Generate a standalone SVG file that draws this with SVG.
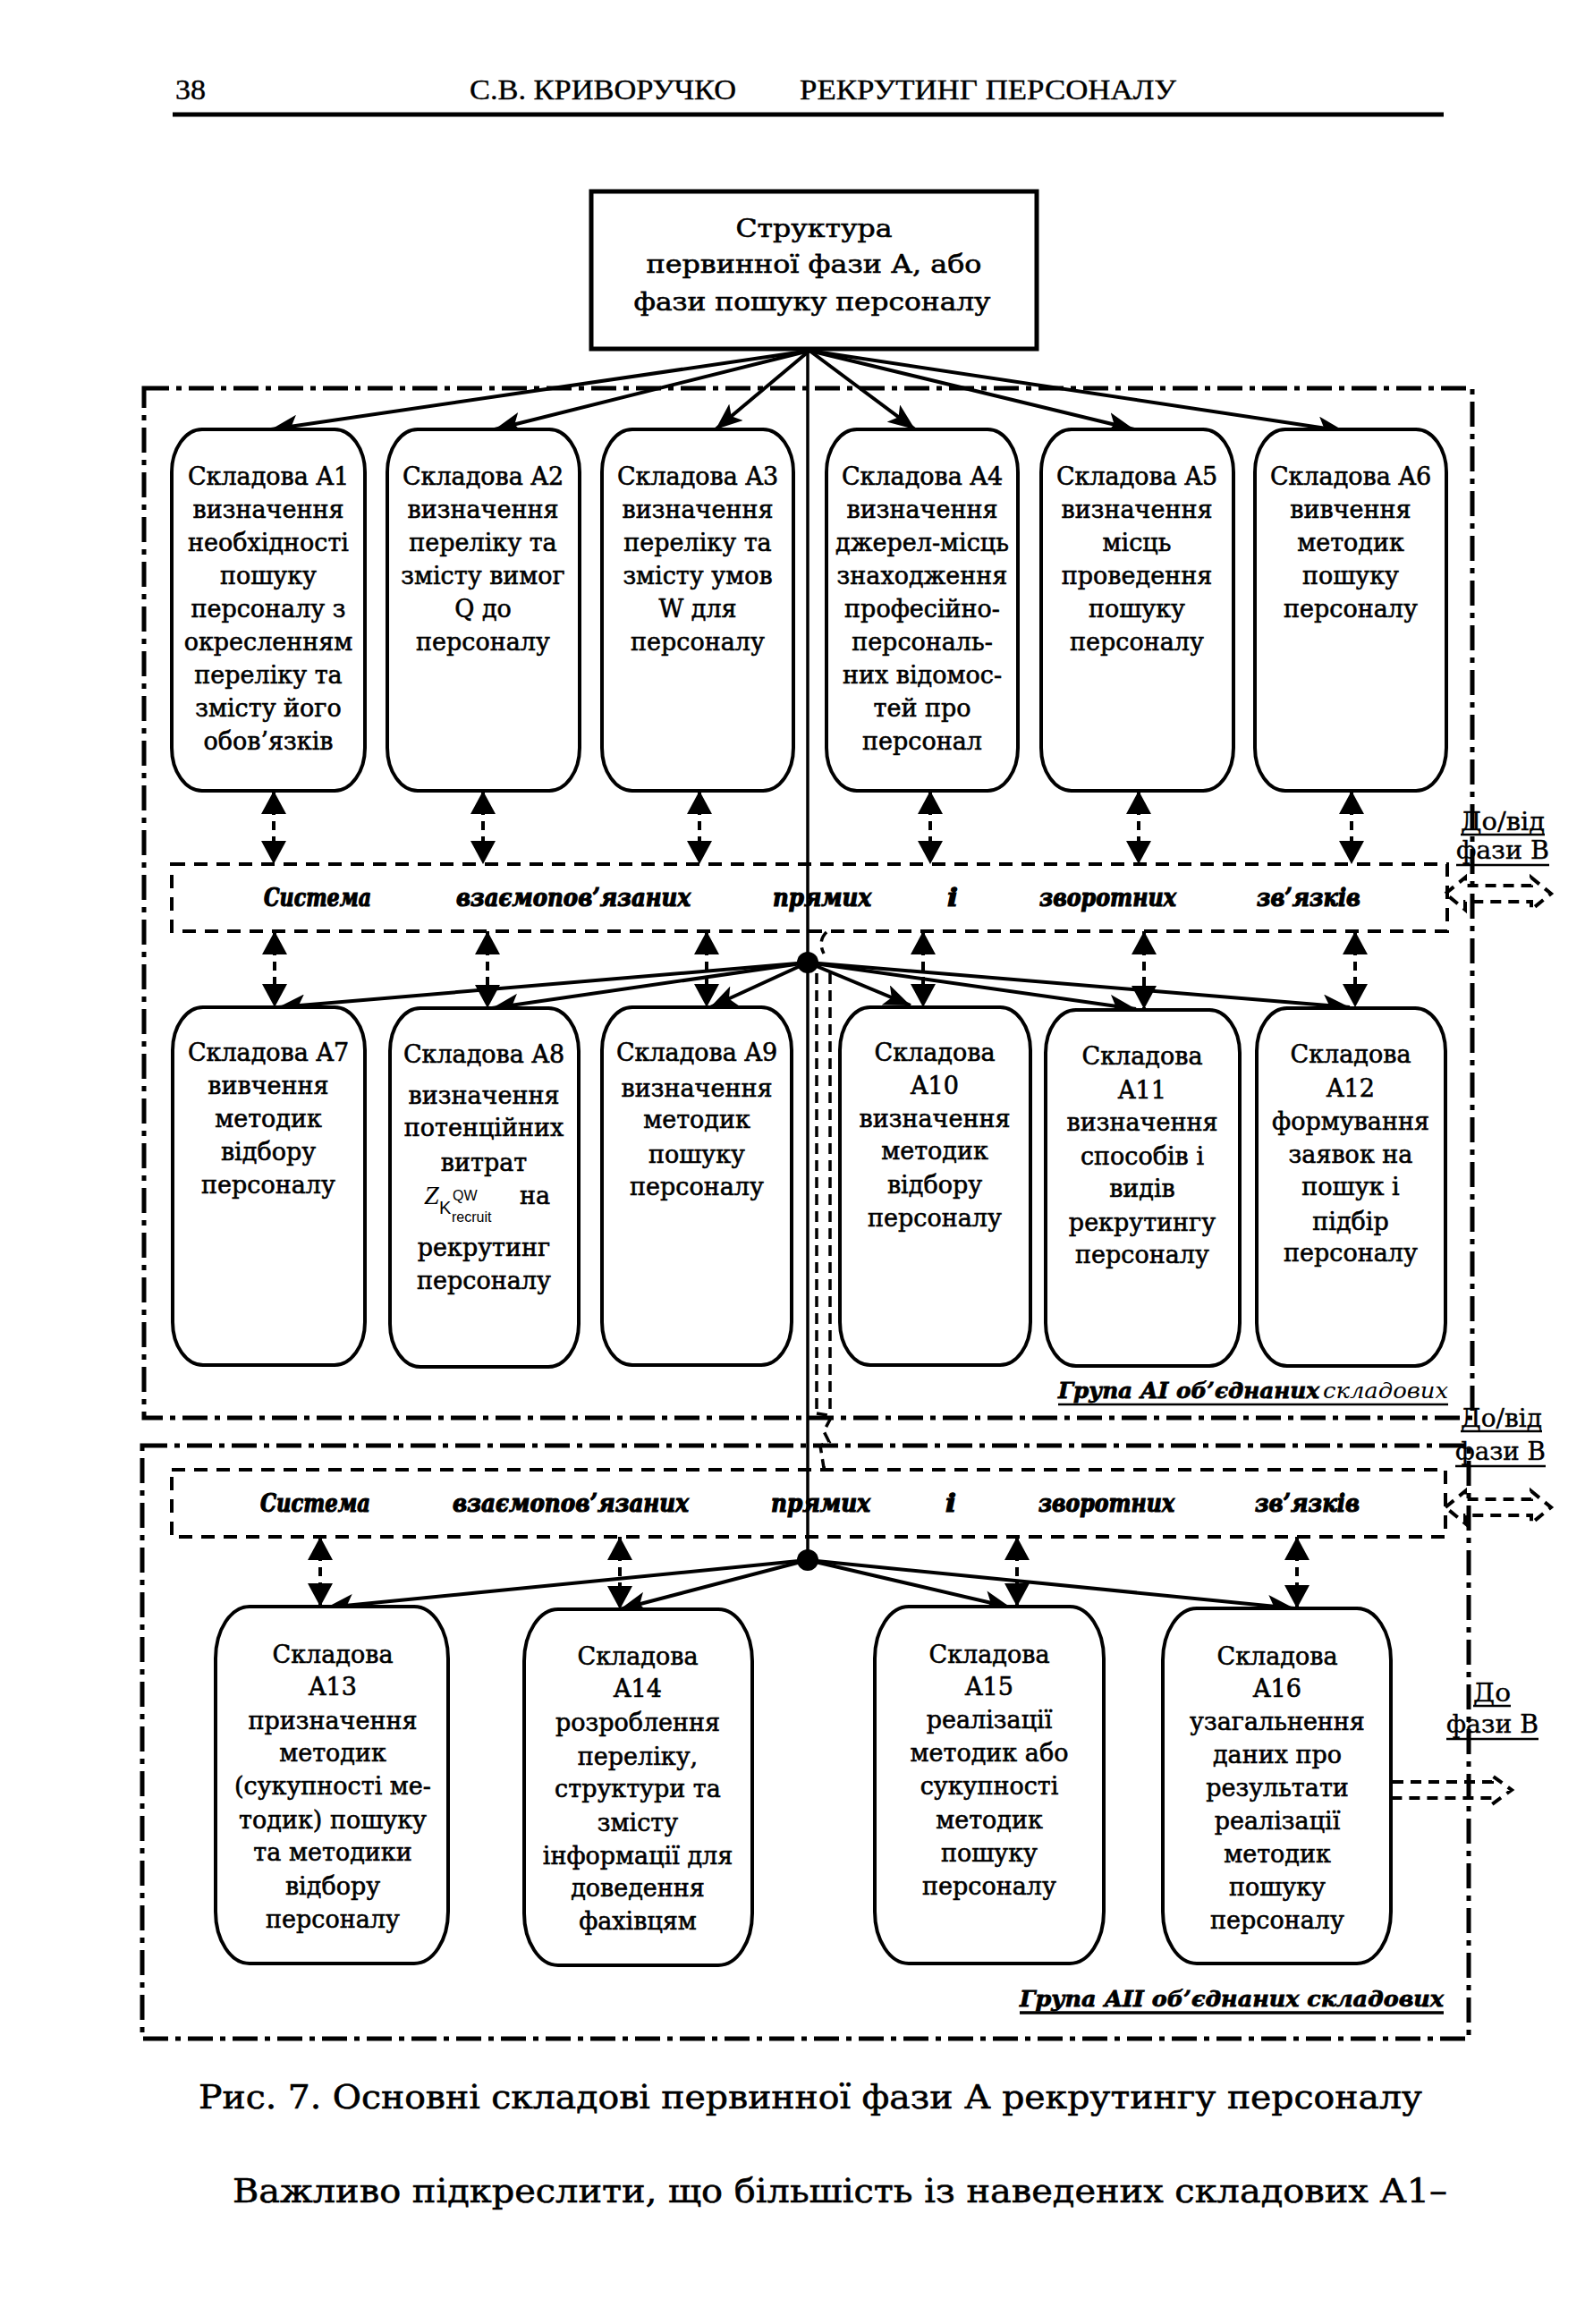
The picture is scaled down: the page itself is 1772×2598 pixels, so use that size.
<svg xmlns="http://www.w3.org/2000/svg" width="1772" height="2598" viewBox="0 0 1772 2598">
<style>
.bg{fill:#fff}
.box{fill:#fff;stroke:#000;stroke-width:4}
.top{fill:#fff;stroke:#000;stroke-width:5}
.t{font-family:"DejaVu Serif","Liberation Serif",serif;font-size:27px;text-anchor:middle;fill:#000;stroke:#000;stroke-width:0.6}
.h{font-family:"Liberation Serif","DejaVu Serif",serif;font-size:32px;fill:#000;stroke:#000;stroke-width:0.4}
.cap{font-family:"DejaVu Serif","Liberation Serif",serif;font-size:38px;fill:#000;stroke:#000;stroke-width:0.6}
.lab{font-family:"DejaVu Serif","Liberation Serif",serif;font-size:28px;fill:#000;stroke:#000;stroke-width:0.4}
.sw{font-family:"DejaVu Serif","Liberation Serif",serif;font-size:27px;font-weight:bold;font-style:italic;fill:#000;stroke:#000;stroke-width:1.2}
.gl{font-family:"DejaVu Serif","Liberation Serif",serif;font-size:25px;font-weight:bold;font-style:italic;fill:#000;stroke:#000;stroke-width:0.8}
.gli{font-family:"DejaVu Serif","Liberation Serif",serif;font-size:25px;font-style:italic;fill:#000}
.sys{fill:none;stroke:#000;stroke-width:4;stroke-dasharray:15 10}
.grp{fill:none;stroke:#000;stroke-width:5;stroke-dasharray:28 8 6 8}
.fan{fill:none;stroke:#000;stroke-width:4;marker-end:url(#fa)}
.dar{fill:none;stroke:#000;stroke-width:4;stroke-dasharray:10 7;marker-start:url(#da);marker-end:url(#da)}
.blk{fill:none;stroke:#000;stroke-width:4;stroke-dasharray:12 8}
.ul{stroke:#000;stroke-width:2.5}
.tube{fill:none;stroke:#000;stroke-width:3.5;stroke-dasharray:12 7}
</style>
<defs>
<marker id="fa" viewBox="0 0 30 24" refX="30" refY="12" markerWidth="30" markerHeight="24" markerUnits="userSpaceOnUse" orient="auto"><path d="M0,0 L30,12 L0,24 L7,12 Z" fill="#000"/></marker>
<marker id="da" viewBox="0 0 26 28" refX="26" refY="14" markerWidth="26" markerHeight="28" markerUnits="userSpaceOnUse" orient="auto-start-reverse"><path d="M0,0 L26,14 L0,28 Z" fill="#000"/></marker>
</defs>
<rect class="bg" x="0" y="0" width="1772" height="2598"/>

<g id="header">
<text class="h" x="196" y="111" textLength="34" lengthAdjust="spacingAndGlyphs">38</text>
<text class="h" x="525" y="111" textLength="298" lengthAdjust="spacingAndGlyphs">С.В. КРИВОРУЧКО</text>
<text class="h" x="894" y="111" textLength="421" lengthAdjust="spacingAndGlyphs">РЕКРУТИНГ ПЕРСОНАЛУ</text>
<line x1="193" y1="128" x2="1614" y2="128" stroke="#000" stroke-width="5"/>
</g>

<g id="groups">
<rect id="groupAI" class="grp" x="161" y="434" width="1485" height="1151"/>
<rect id="groupAII" class="grp" x="159" y="1616" width="1483" height="663"/>
</g>

<g id="connectors">
<line x1="903" y1="390" x2="903" y2="1744" stroke="#000" stroke-width="3.5"/>
<line class="fan" x1="905" y1="392" x2="303" y2="480"/>
<line class="fan" x1="905" y1="392" x2="553" y2="480"/>
<line class="fan" x1="905" y1="392" x2="800" y2="480"/>
<line class="fan" x1="905" y1="392" x2="1023" y2="480"/>
<line class="fan" x1="905" y1="392" x2="1268" y2="480"/>
<line class="fan" x1="905" y1="392" x2="1503" y2="482"/>

<line class="dar" x1="306" y1="884" x2="306" y2="966"/>
<line class="dar" x1="540" y1="884" x2="540" y2="966"/>
<line class="dar" x1="782" y1="884" x2="782" y2="966"/>
<line class="dar" x1="1040" y1="884" x2="1040" y2="966"/>
<line class="dar" x1="1273" y1="884" x2="1273" y2="966"/>
<line class="dar" x1="1511" y1="884" x2="1511" y2="966"/>

<line class="dar" x1="307" y1="1041" x2="307" y2="1126"/>
<line class="dar" x1="545" y1="1041" x2="545" y2="1127"/>
<line class="dar" x1="790" y1="1041" x2="790" y2="1126"/>
<line class="dar" x1="1032" y1="1041" x2="1032" y2="1126"/>
<line class="dar" x1="1279" y1="1041" x2="1279" y2="1128"/>
<line class="dar" x1="1515" y1="1041" x2="1515" y2="1126"/>

<circle cx="903" cy="1076" r="12" fill="#000"/>
<line class="fan" x1="903" y1="1076" x2="311" y2="1126"/>
<line class="fan" x1="903" y1="1076" x2="550" y2="1127"/>
<line class="fan" x1="903" y1="1076" x2="794" y2="1126"/>
<line class="fan" x1="903" y1="1076" x2="1018" y2="1124"/>
<line class="fan" x1="903" y1="1076" x2="1270" y2="1128"/>
<line class="fan" x1="903" y1="1076" x2="1509" y2="1126"/>

<path class="tube" d="M924,1042 Q914,1052 921,1066"/>
<line class="tube" x1="913" y1="1088" x2="913" y2="1580"/>
<line class="tube" x1="928" y1="1088" x2="928" y2="1580"/>
<path class="tube" d="M913,1580 L930,1583 L921,1600 L927,1612 L917,1616 L921,1641 L930,1641"/>

<line class="dar" x1="358" y1="1718" x2="358" y2="1796"/>
<line class="dar" x1="693" y1="1718" x2="693" y2="1799"/>
<line class="dar" x1="1137" y1="1718" x2="1137" y2="1796"/>
<line class="dar" x1="1450" y1="1718" x2="1450" y2="1798"/>

<circle cx="903" cy="1744" r="12" fill="#000"/>
<line class="fan" x1="903" y1="1744" x2="365" y2="1797"/>
<line class="fan" x1="903" y1="1744" x2="693" y2="1799"/>
<line class="fan" x1="903" y1="1744" x2="1130" y2="1797"/>
<line class="fan" x1="903" y1="1744" x2="1447" y2="1798"/>

<polygon class="blk" points="1616,999 1638,981 1638,990 1712,990 1712,981 1734,999 1712,1017 1712,1008 1638,1008 1638,1017"/>
<polygon class="blk" points="1616,1685 1638,1667 1638,1676 1712,1676 1712,1667 1734,1685 1712,1703 1712,1694 1638,1694 1638,1703"/>
<polyline class="blk" points="1557,1992 1668,1992 1668,1985 1690,2001 1668,2017 1668,2010 1557,2010"/>
</g>

<g id="root">
<rect class="top" x="661" y="214" width="498" height="176"/>
<text class="t" x="910" y="265" font-size="30" textLength="175" lengthAdjust="spacingAndGlyphs">Структура</text>
<text class="t" x="910" y="305" font-size="30" textLength="375" lengthAdjust="spacingAndGlyphs">первинної фази А, або</text>
<text class="t" x="908" y="347" font-size="30" textLength="399" lengthAdjust="spacingAndGlyphs">фази пошуку персоналу</text>
</g>

<g id="A1">
<rect class="box" x="192" y="480" width="216" height="404" rx="34" ry="48"/>
<text class="t" x="300" y="542">Складова A1</text>
<text class="t" x="300" y="579">визначення</text>
<text class="t" x="300" y="616">необхідності</text>
<text class="t" x="300" y="653">пошуку</text>
<text class="t" x="300" y="690">персоналу з</text>
<text class="t" x="300" y="727">окресленням</text>
<text class="t" x="300" y="764">переліку та</text>
<text class="t" x="300" y="801">змісту його</text>
<text class="t" x="300" y="838">обов’язків</text>
</g>
<g id="A2">
<rect class="box" x="433" y="480" width="215" height="404" rx="34" ry="48"/>
<text class="t" x="540" y="542">Складова A2</text>
<text class="t" x="540" y="579">визначення</text>
<text class="t" x="540" y="616">переліку та</text>
<text class="t" x="540" y="653">змісту вимог</text>
<text class="t" x="540" y="690">Q до</text>
<text class="t" x="540" y="727">персоналу</text>
</g>
<g id="A3">
<rect class="box" x="673" y="480" width="214" height="404" rx="34" ry="48"/>
<text class="t" x="780" y="542">Складова A3</text>
<text class="t" x="780" y="579">визначення</text>
<text class="t" x="780" y="616">переліку та</text>
<text class="t" x="780" y="653">змісту умов</text>
<text class="t" x="780" y="690">W для</text>
<text class="t" x="780" y="727">персоналу</text>
</g>
<g id="A4">
<rect class="box" x="924" y="480" width="214" height="404" rx="34" ry="48"/>
<text class="t" x="1031" y="542">Складова  A4</text>
<text class="t" x="1031" y="579">визначення</text>
<text class="t" x="1031" y="616">джерел-місць</text>
<text class="t" x="1031" y="653">знаходження</text>
<text class="t" x="1031" y="690">професійно-</text>
<text class="t" x="1031" y="727">персональ-</text>
<text class="t" x="1031" y="764">них відомос-</text>
<text class="t" x="1031" y="801">тей про</text>
<text class="t" x="1031" y="838">персонал</text>
</g>
<g id="A5">
<rect class="box" x="1164" y="480" width="215" height="404" rx="34" ry="48"/>
<text class="t" x="1271" y="542">Складова A5</text>
<text class="t" x="1271" y="579">визначення</text>
<text class="t" x="1271" y="616">місць</text>
<text class="t" x="1271" y="653">проведення</text>
<text class="t" x="1271" y="690">пошуку</text>
<text class="t" x="1271" y="727">персоналу</text>
</g>
<g id="A6">
<rect class="box" x="1403" y="480" width="214" height="404" rx="34" ry="48"/>
<text class="t" x="1510" y="542">Складова A6</text>
<text class="t" x="1510" y="579">вивчення</text>
<text class="t" x="1510" y="616">методик</text>
<text class="t" x="1510" y="653">пошуку</text>
<text class="t" x="1510" y="690">персоналу</text>
</g>

<g id="sys1">
<rect class="sys" x="192" y="966" width="1426" height="75"/>
<text class="sw" x="295" y="1013" textLength="120" lengthAdjust="spacingAndGlyphs">Система</text>
<text class="sw" x="510" y="1013" textLength="262" lengthAdjust="spacingAndGlyphs">взаємопов’язаних</text>
<text class="sw" x="864" y="1013" textLength="110" lengthAdjust="spacingAndGlyphs">прямих</text>
<text class="sw" x="1059" y="1013" textLength="12" lengthAdjust="spacingAndGlyphs">і</text>
<text class="sw" x="1162" y="1013" textLength="153" lengthAdjust="spacingAndGlyphs">зворотних</text>
<text class="sw" x="1405" y="1013" textLength="116" lengthAdjust="spacingAndGlyphs">зв’язків</text>
</g>

<g id="A7">
<rect class="box" x="193" y="1126" width="215" height="400" rx="34" ry="48"/>
<text class="t" x="300" y="1186">Складова A7</text>
<text class="t" x="300" y="1223">вивчення</text>
<text class="t" x="300" y="1260">методик</text>
<text class="t" x="300" y="1297">відбору</text>
<text class="t" x="300" y="1334">персоналу</text>
</g>
<g id="A8">
<rect class="box" x="436" y="1127" width="211" height="401" rx="34" ry="48"/>
<text class="t" x="541" y="1188">Складова A8</text>
<text class="t" x="541" y="1234">визначення</text>
<text class="t" x="541" y="1270">потенційних</text>
<text class="t" x="541" y="1309">витрат</text>
<text x="474" y="1346" font-family="Liberation Serif, serif" font-style="italic" font-size="30">Z</text>
<text x="491" y="1357" font-family="Liberation Sans, sans-serif" font-size="20">K</text>
<text x="506" y="1342" font-family="Liberation Sans, sans-serif" font-size="16">QW</text>
<text x="505" y="1366" font-family="Liberation Sans, sans-serif" font-size="16">recruit</text>
<text class="t" x="581" y="1346" style="text-anchor:start">на</text>
<text class="t" x="541" y="1404">рекрутинг</text>
<text class="t" x="541" y="1441">персоналу</text>
</g>
<g id="A9">
<rect class="box" x="673" y="1126" width="212" height="400" rx="34" ry="48"/>
<text class="t" x="779" y="1186">Складова A9</text>
<text class="t" x="779" y="1226">визначення</text>
<text class="t" x="779" y="1261">методик</text>
<text class="t" x="779" y="1300">пошуку</text>
<text class="t" x="779" y="1336">персоналу</text>
</g>
<g id="A10">
<rect class="box" x="939" y="1126" width="213" height="400" rx="34" ry="48"/>
<text class="t" x="1045" y="1186">Складова</text>
<text class="t" x="1045" y="1223">A10</text>
<text class="t" x="1045" y="1260">визначення</text>
<text class="t" x="1045" y="1296">методик</text>
<text class="t" x="1045" y="1334">відбору</text>
<text class="t" x="1045" y="1371">персоналу</text>
</g>
<g id="A11">
<rect class="box" x="1169" y="1129" width="217" height="398" rx="34" ry="48"/>
<text class="t" x="1277" y="1190">Складова</text>
<text class="t" x="1277" y="1228">A11</text>
<text class="t" x="1277" y="1264">визначення</text>
<text class="t" x="1277" y="1302">способів і</text>
<text class="t" x="1277" y="1338">видів</text>
<text class="t" x="1277" y="1376">рекрутингу</text>
<text class="t" x="1277" y="1412">персоналу</text>
</g>
<g id="A12">
<rect class="box" x="1405" y="1127" width="211" height="400" rx="34" ry="48"/>
<text class="t" x="1510" y="1188">Складова</text>
<text class="t" x="1510" y="1226">A12</text>
<text class="t" x="1510" y="1263">формування</text>
<text class="t" x="1510" y="1300">заявок на</text>
<text class="t" x="1510" y="1336">пошук і</text>
<text class="t" x="1510" y="1375">підбір</text>
<text class="t" x="1510" y="1410">персоналу</text>
</g>

<g id="labelAI">
<text class="gl" x="1183" y="1563" textLength="292" lengthAdjust="spacingAndGlyphs">Група АІ об’єднаних</text>
<text class="gli" x="1479" y="1563" textLength="140" lengthAdjust="spacingAndGlyphs">складових</text>
<line class="ul" x1="1183" y1="1570" x2="1619" y2="1570"/>
</g>

<g id="toB1">
<text class="lab" x="1633" y="928" textLength="94" lengthAdjust="spacingAndGlyphs">До/від</text>
<line class="ul" x1="1633" y1="933" x2="1727" y2="933"/>
<text class="lab" x="1628" y="960" textLength="104" lengthAdjust="spacingAndGlyphs">фази В</text>
<line class="ul" x1="1628" y1="967" x2="1732" y2="967"/>
</g>
<g id="toB2">
<text class="lab" x="1633" y="1595" textLength="91" lengthAdjust="spacingAndGlyphs">До/від</text>
<line class="ul" x1="1633" y1="1600" x2="1724" y2="1600"/>
<text class="lab" x="1627" y="1632" textLength="101" lengthAdjust="spacingAndGlyphs">фази В</text>
<line class="ul" x1="1627" y1="1639" x2="1728" y2="1639"/>
</g>
<g id="toB3">
<text class="lab" x="1647" y="1902" textLength="42" lengthAdjust="spacingAndGlyphs">До</text>
<line class="ul" x1="1647" y1="1907" x2="1689" y2="1907"/>
<text class="lab" x="1617" y="1937" textLength="103" lengthAdjust="spacingAndGlyphs">фази В</text>
<line class="ul" x1="1617" y1="1944" x2="1720" y2="1944"/>
</g>

<g id="sys2">
<rect class="sys" x="192" y="1643" width="1424" height="75"/>
<text class="sw" x="291" y="1690" textLength="123" lengthAdjust="spacingAndGlyphs">Система</text>
<text class="sw" x="506" y="1690" textLength="264" lengthAdjust="spacingAndGlyphs">взаємопов’язаних</text>
<text class="sw" x="862" y="1690" textLength="111" lengthAdjust="spacingAndGlyphs">прямих</text>
<text class="sw" x="1057" y="1690" textLength="12" lengthAdjust="spacingAndGlyphs">і</text>
<text class="sw" x="1161" y="1690" textLength="152" lengthAdjust="spacingAndGlyphs">зворотних</text>
<text class="sw" x="1403" y="1690" textLength="117" lengthAdjust="spacingAndGlyphs">зв’язків</text>
</g>

<g id="A13">
<rect class="box" x="241" y="1796" width="260" height="399" rx="38" ry="58"/>
<text class="t" x="372" y="1859">Складова</text>
<text class="t" x="372" y="1895">A13</text>
<text class="t" x="372" y="1933">призначення</text>
<text class="t" x="372" y="1969">методик</text>
<text class="t" x="372" y="2006">(сукупності ме-</text>
<text class="t" x="372" y="2044">тодик) пошуку</text>
<text class="t" x="372" y="2080">та методики</text>
<text class="t" x="372" y="2118">відбору</text>
<text class="t" x="372" y="2155">персоналу</text>
</g>
<g id="A14">
<rect class="box" x="586" y="1799" width="255" height="398" rx="38" ry="58"/>
<text class="t" x="713" y="1861">Складова</text>
<text class="t" x="713" y="1897">A14</text>
<text class="t" x="713" y="1935">розроблення</text>
<text class="t" x="713" y="1973">переліку,</text>
<text class="t" x="713" y="2009">структури та</text>
<text class="t" x="713" y="2047">змісту</text>
<text class="t" x="713" y="2084">інформації для</text>
<text class="t" x="713" y="2120">доведення</text>
<text class="t" x="713" y="2157">фахівцям</text>
</g>
<g id="A15">
<rect class="box" x="978" y="1796" width="256" height="399" rx="38" ry="58"/>
<text class="t" x="1106" y="1859">Складова</text>
<text class="t" x="1106" y="1895">A15</text>
<text class="t" x="1106" y="1932">реалізації</text>
<text class="t" x="1106" y="1969">методик або</text>
<text class="t" x="1106" y="2006">сукупності</text>
<text class="t" x="1106" y="2044">методик</text>
<text class="t" x="1106" y="2081">пошуку</text>
<text class="t" x="1106" y="2118">персоналу</text>
</g>
<g id="A16">
<rect class="box" x="1300" y="1798" width="255" height="397" rx="38" ry="58"/>
<text class="t" x="1428" y="1861">Складова</text>
<text class="t" x="1428" y="1897">A16</text>
<text class="t" x="1428" y="1934">узагальнення</text>
<text class="t" x="1428" y="1971">даних про</text>
<text class="t" x="1428" y="2008">результати</text>
<text class="t" x="1428" y="2045">реалізації</text>
<text class="t" x="1428" y="2082">методик</text>
<text class="t" x="1428" y="2119">пошуку</text>
<text class="t" x="1428" y="2156">персоналу</text>
</g>

<g id="labelAII">
<text class="gl" x="1140" y="2243" textLength="474" lengthAdjust="spacingAndGlyphs">Група АІІ об’єднаних складових</text>
<line x1="1140" y1="2250" x2="1614" y2="2250" stroke="#000" stroke-width="3.5"/>
</g>

<g id="caption">
<text class="cap" x="222" y="2357" textLength="1368" lengthAdjust="spacingAndGlyphs">Рис. 7. Основні складові первинної фази А рекрутингу персоналу</text>
<text class="cap" x="260" y="2462" textLength="1358" lengthAdjust="spacingAndGlyphs">Важливо підкреслити, що більшість із наведених складових А1–</text>
</g>
</svg>
